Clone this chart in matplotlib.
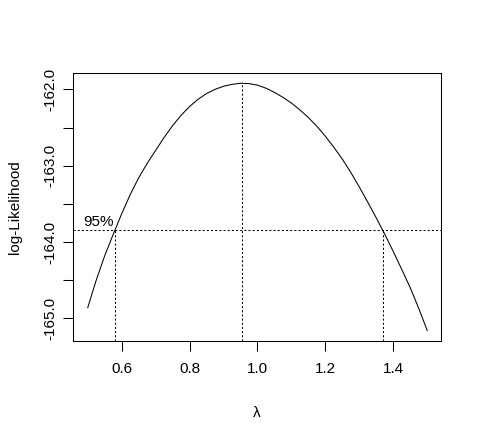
import matplotlib
matplotlib.use("Agg")
import matplotlib.pyplot as plt
import numpy as np

plt.rcParams['font.family'] = ['Liberation Sans', 'DejaVu Sans']
plt.rcParams['axes.unicode_minus'] = False

# profile log-likelihood
lam = [0.500, 0.525, 0.550, 0.575, 0.600, 0.625, 0.650, 0.675, 0.700, 0.725,
       0.750, 0.775, 0.800, 0.825, 0.850, 0.875, 0.900, 0.925, 0.950, 0.975,
       1.000, 1.025, 1.050, 1.075, 1.100, 1.125, 1.150, 1.175, 1.200, 1.225,
       1.250, 1.275, 1.300, 1.325, 1.350, 1.375, 1.400, 1.425, 1.450, 1.475,
       1.500]
loglik = [-164.86, -164.50, -164.18, -163.90, -163.63, -163.38, -163.16, -162.97,
          -162.80, -162.63, -162.475, -162.34, -162.225, -162.13, -162.055, -162.00,
          -161.96, -161.935, -161.92, -161.925, -161.945, -161.985, -162.04, -162.105,
          -162.18, -162.27, -162.37, -162.485, -162.615, -162.76, -162.915, -163.09,
          -163.28, -163.48, -163.685, -163.90, -164.125, -164.36, -164.60, -164.87,
          -165.16]

lam_max = 0.955
ll_max = -161.92
ci_level = -163.84
ci_lo, ci_hi = 0.580, 1.369

xticks = [0.6, 0.8, 1.0, 1.2, 1.4]
yticks = [-165.0, -164.5, -164.0, -163.5, -163.0, -162.5, -162.0]
ylabels = ['-165.0', '', '-164.0', '', '-163.0', '', '-162.0']

fig = plt.figure(figsize=(4.79, 4.33), dpi=100)
ax = fig.add_axes([73 / 479, 1 - 341 / 433, 368 / 479, 268 / 433])

ax.plot(lam, loglik, color='black', lw=0.75)
ax.set_xlim(0.4566, 1.5405)
ax.set_ylim(-165.297, -161.786)

dot = dict(color='black', lw=0.75, dashes=(2, 2))
ymin = ax.get_ylim()[0]
ax.plot([lam_max, lam_max], [ymin, ll_max], **dot)
ax.axhline(ci_level, **dot)
ax.plot([ci_lo, ci_lo], [ymin, ci_level], **dot)
ax.plot([ci_hi, ci_hi], [ymin, ci_level], **dot)
ax.text(0.487, ci_level + 0.01, '95%', fontsize=11, ha='left', va='bottom')

ax.set_xticks(xticks)
ax.set_xticklabels(['%.1f' % v for v in xticks])
ax.set_yticks(yticks)
ax.set_yticklabels(ylabels, rotation=90, va='center')
ax.tick_params(direction='out', length=7, width=0.75, labelsize=11)
ax.tick_params(axis='x', pad=8)
ax.tick_params(axis='y', pad=4.5)
for s in ax.spines.values():
    s.set_linewidth(0.75)

ax.set_xlabel('\u03bb', fontsize=11, labelpad=22)
ax.set_ylabel('log-Likelihood', fontsize=11, labelpad=15)

fig.savefig('out.png', dpi=100)
